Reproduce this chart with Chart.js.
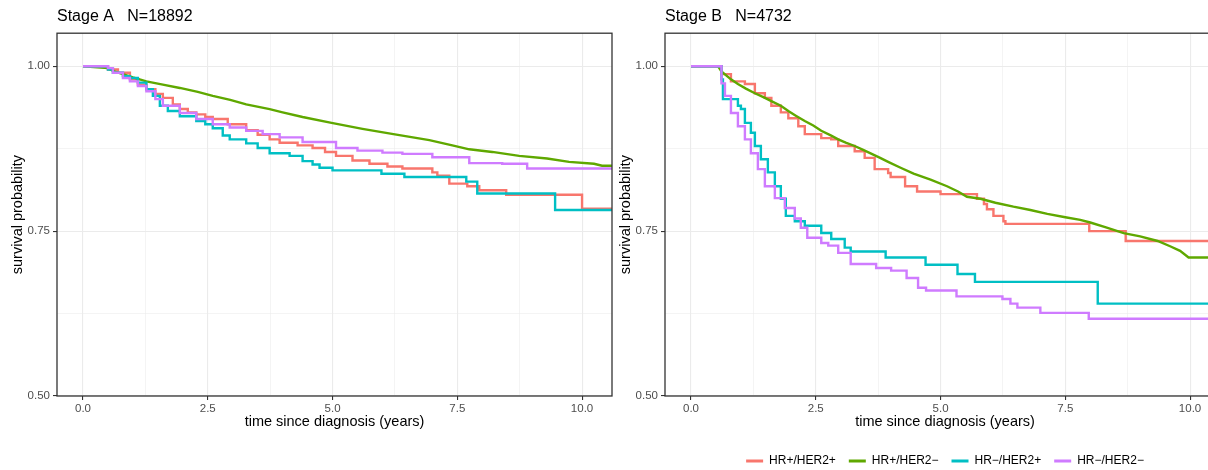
<!DOCTYPE html>
<html><head><meta charset="utf-8">
<script src="https://cdn.jsdelivr.net/npm/chart.js@4.4.1/dist/chart.umd.min.js"></script>
<style>
html,body{margin:0;padding:0;width:1208px;height:470px;overflow:hidden;background:#fff;}
#wrapA{position:absolute;left:0;top:0;width:620px;height:470px;}
#wrapB{position:absolute;left:608px;top:0;width:640px;height:477px;}
canvas{display:block;}
</style></head><body>
<div id="wrapA"><canvas id="cA" width="620" height="470"></canvas></div>
<div id="wrapB"><canvas id="cB" width="640" height="477"></canvas></div>
<script>
// ---- categories & titles ----
const groups = ['HR+/HER2+', 'HR+/HER2\u2212', 'HR\u2212/HER2+', 'HR\u2212/HER2\u2212'];
const panelTitles = ['Stage A   N=18892', 'Stage B   N=4732'];
const xTitle = 'time since diagnosis (years)';
const yTitle = 'survival probability';
const xTickLabels = [0, 2.5, 5, 7.5, 10];
const yTickLabels = [0.5, 0.75, 1.0];

// ---- Stage A ----
const tA1 = [0, 0.5, 0.7, 0.94, 1.1, 1.27, 1.45, 1.6, 1.8, 1.94, 2.1, 2.27, 2.45, 2.6, 2.9, 3.27, 3.5, 3.74, 3.94, 4.3, 4.6, 4.85, 5.07, 5.4, 5.74, 6.1, 6.4, 7.0, 7.1, 7.34, 7.7, 7.94, 8.48, 10.0, 10.6];
const sA1 = [1, 0.995, 0.99, 0.98, 0.972, 0.965, 0.958, 0.952, 0.942, 0.935, 0.93, 0.927, 0.923, 0.92, 0.912, 0.903, 0.896, 0.889, 0.884, 0.88, 0.876, 0.87, 0.864, 0.857, 0.852, 0.848, 0.845, 0.839, 0.834, 0.822, 0.818, 0.812, 0.805, 0.784, 0.784];
const tA2 = [0, 0.5, 0.6, 0.8, 1.0, 1.27, 1.6, 1.94, 2.3, 2.6, 2.95, 3.27, 3.74, 4.0, 4.4, 4.98, 5.6, 6.22, 6.94, 7.4, 7.74, 8.2, 8.74, 9.3, 9.74, 10.24, 10.4, 10.6];
const sA2 = [1, 0.997, 0.993, 0.988, 0.983, 0.977, 0.972, 0.967, 0.961, 0.955, 0.949, 0.942, 0.935, 0.93, 0.923, 0.914, 0.905, 0.897, 0.888, 0.88, 0.874, 0.87, 0.864, 0.86, 0.855, 0.852, 0.849, 0.849];
const tA3 = [0, 0.5, 0.6, 0.8, 0.94, 1.1, 1.27, 1.4, 1.54, 1.7, 1.94, 2.27, 2.45, 2.6, 2.8, 2.94, 3.27, 3.5, 3.74, 4.14, 4.4, 4.6, 4.74, 5.0, 5.98, 6.44, 7.68, 7.9, 9.46, 10.6];
const sA3 = [1, 0.995, 0.99, 0.985, 0.982, 0.975, 0.965, 0.955, 0.94, 0.932, 0.924, 0.917, 0.912, 0.906, 0.895, 0.889, 0.883, 0.876, 0.868, 0.864, 0.856, 0.851, 0.846, 0.842, 0.837, 0.832, 0.825, 0.807, 0.782, 0.782];
const tA4 = [0, 0.5, 0.6, 0.8, 0.94, 1.1, 1.27, 1.45, 1.6, 1.94, 2.27, 2.6, 2.94, 3.27, 3.6, 3.94, 4.4, 5.07, 5.5, 6.0, 6.4, 7.0, 7.74, 8.4, 8.9, 10.6];
const sA4 = [1, 0.997, 0.99, 0.982, 0.977, 0.97, 0.962, 0.95, 0.94, 0.929, 0.92, 0.912, 0.907, 0.902, 0.897, 0.892, 0.885, 0.876, 0.872, 0.869, 0.867, 0.862, 0.853, 0.852, 0.845, 0.845];

// ---- Stage B ----
const tB1 = [0, 0.54, 0.61, 0.8, 1.08, 1.28, 1.48, 1.61, 1.8, 1.95, 2.15, 2.28, 2.61, 2.81, 2.95, 3.28, 3.48, 3.68, 3.95, 4.0, 4.29, 4.53, 5.0, 5.73, 5.87, 5.93, 6.06, 6.26, 6.3, 7.98, 8.71, 10.7];
const sB1 = [1, 1, 0.988, 0.977, 0.973, 0.959, 0.952, 0.94, 0.93, 0.921, 0.909, 0.897, 0.891, 0.889, 0.879, 0.871, 0.861, 0.844, 0.838, 0.832, 0.818, 0.81, 0.806, 0.799, 0.791, 0.783, 0.773, 0.765, 0.761, 0.75, 0.735, 0.735];
const tB2 = [0, 0.54, 0.61, 0.8, 0.94, 1.1, 1.28, 1.45, 1.61, 1.8, 1.95, 2.1, 2.28, 2.45, 2.61, 2.8, 2.95, 3.1, 3.28, 3.45, 3.62, 3.79, 3.95, 4.2, 4.46, 4.8, 5.13, 5.35, 5.53, 5.8, 6.1, 6.46, 6.8, 7.14, 7.5, 7.8, 8.0, 8.3, 8.67, 9.0, 9.35, 9.6, 9.8, 9.97, 10.7];
const sB2 = [1, 1, 0.992, 0.98, 0.973, 0.966, 0.959, 0.953, 0.947, 0.94, 0.932, 0.925, 0.917, 0.91, 0.902, 0.895, 0.889, 0.884, 0.879, 0.873, 0.867, 0.861, 0.855, 0.846, 0.837, 0.828, 0.818, 0.81, 0.802, 0.799, 0.793, 0.787, 0.782, 0.776, 0.771, 0.767, 0.763, 0.756, 0.747, 0.742, 0.735, 0.727, 0.72, 0.71, 0.71];
const tB3 = [0, 0.54, 0.61, 0.64, 0.94, 1.0, 1.08, 1.2, 1.28, 1.4, 1.54, 1.68, 1.8, 1.9, 2.08, 2.28, 2.61, 2.81, 3.08, 3.2, 3.9, 4.7, 5.34, 5.69, 8.15, 10.7];
const sB3 = [1, 1, 0.98, 0.95, 0.94, 0.935, 0.914, 0.899, 0.879, 0.859, 0.839, 0.818, 0.799, 0.773, 0.765, 0.758, 0.747, 0.738, 0.725, 0.719, 0.71, 0.699, 0.685, 0.673, 0.64, 0.64];
const tB4 = [0, 0.54, 0.61, 0.68, 0.8, 0.94, 1.08, 1.2, 1.34, 1.48, 1.68, 1.88, 2.08, 2.2, 2.33, 2.61, 2.75, 2.95, 3.2, 3.71, 4.01, 4.32, 4.55, 4.71, 5.32, 6.24, 6.4, 6.54, 7.0, 7.97, 10.7];
const sB4 = [1, 1, 0.974, 0.955, 0.929, 0.909, 0.889, 0.868, 0.844, 0.818, 0.8, 0.785, 0.769, 0.755, 0.74, 0.732, 0.728, 0.717, 0.70, 0.694, 0.69, 0.679, 0.664, 0.66, 0.651, 0.647, 0.64, 0.634, 0.626, 0.617, 0.617];

// ---- styles ----
const colors = ['#F8766D', '#5FA800', '#00BFC4', '#CF7BFF'];
const FONT = "'Liberation Sans', Arial, Helvetica, sans-serif";

const isMajorX = v => Math.abs(v / 2.5 - Math.round(v / 2.5)) < 1e-6;
const isMajorY = v => Math.abs(v / 0.25 - Math.round(v / 0.25)) < 1e-6;
const xGrid = [];
for (let i = 0; i < xTickLabels.length; i++) {
  xGrid.push(xTickLabels[i]);
  if (i < xTickLabels.length - 1) xGrid.push((xTickLabels[i] + xTickLabels[i + 1]) / 2);
}
const yGrid = [];
for (let i = 0; i < yTickLabels.length; i++) {
  yGrid.push(yTickLabels[i]);
  if (i < yTickLabels.length - 1) yGrid.push((yTickLabels[i] + yTickLabels[i + 1]) / 2);
}

function series(ts, ss, i, stepped) {
  return {
    label: groups[i],
    data: ts.map((t, k) => ({x: t, y: ss[k]})),
    borderColor: colors[i],
    backgroundColor: colors[i],
    borderWidth: 2.4,
    pointRadius: 0,
    pointHoverRadius: 0,
    stepped: stepped,
    tension: 0,
    fill: false,
    clip: 0,
    order: 4 - i
  };
}

const panelBorder = {
  id: 'panelBorder',
  afterDatasetsDraw(chart) {
    const {ctx, chartArea: a} = chart;
    ctx.save();
    ctx.strokeStyle = '#333333';
    ctx.lineWidth = 1.3;
    ctx.strokeRect(a.left, a.top, a.right - a.left, a.bottom - a.top);
    ctx.restore();
  }
};

function makeChart(id, title, datasets, cfg) {
  return new Chart(document.getElementById(id), {
    type: 'line',
    data: {datasets},
    plugins: [panelBorder],
    options: {
      responsive: false,
      animation: false,
      devicePixelRatio: 1,
      layout: {padding: {left: 0, top: 0, right: cfg.padRight, bottom: cfg.padBottom}},
      plugins: {
        tooltip: {enabled: false},
        title: {
          display: true, text: title, align: 'start', fullSize: false,
          color: '#000', font: {family: FONT, size: 16, weight: 'normal'},
          padding: {top: 7, bottom: 7}
        },
        legend: {
          display: cfg.legend, position: 'bottom', align: 'center', fullSize: false,
          labels: {
            boxWidth: 17, boxHeight: 3, padding: 13, color: '#000',
            font: {family: FONT, size: 12},
            sort: (a, b) => a.datasetIndex - b.datasetIndex,
            generateLabels: chart => chart.data.datasets.map((d, i) => ({
              text: d.label, fillStyle: d.borderColor, strokeStyle: d.borderColor,
              lineWidth: 0, hidden: false, datasetIndex: i
            }))
          }
        }
      },
      scales: {
        x: {
          type: 'linear', min: -0.521, max: cfg.xMax,
          afterBuildTicks: s => { s.ticks = xGrid.map(v => ({value: v})); },
          afterFit: s => { s.height = cfg.xHeight; },
          border: {display: false},
          grid: {
            color: '#EBEBEB',
            lineWidth: c => isMajorX(c.tick.value) ? 1.1 : 0.55,
            drawTicks: true, tickLength: 4, tickWidth: 1.1,
            tickColor: c => isMajorX(c.tick.value) ? '#333333' : 'rgba(0,0,0,0)'
          },
          ticks: {
            autoSkip: false, maxRotation: 0, padding: 2, color: '#4D4D4D',
            font: {family: FONT, size: 11.5},
            callback: v => isMajorX(v) ? v.toFixed(1) : ''
          },
          title: {
            display: true, text: xTitle, color: '#000',
            font: {family: FONT, size: 14.5}, padding: {top: 0, bottom: cfg.xTitlePad}
          }
        },
        y: {
          type: 'linear', min: 0.5, max: 1.05,
          afterBuildTicks: s => { s.ticks = yGrid.map(v => ({value: v})); },
          afterFit: s => { s.width = 57; },
          border: {display: false},
          grid: {
            color: '#EBEBEB',
            lineWidth: c => isMajorY(c.tick.value) ? 1.1 : 0.55,
            drawTicks: true, tickLength: 4, tickWidth: 1.1,
            tickColor: c => isMajorY(c.tick.value) ? '#333333' : 'rgba(0,0,0,0)'
          },
          ticks: {
            autoSkip: false, padding: 3, color: '#4D4D4D',
            font: {family: FONT, size: 11.5},
            callback: v => isMajorY(v) ? v.toFixed(2) : ''
          },
          title: {
            display: true, text: yTitle, color: '#000',
            font: {family: FONT, size: 14.5}, padding: {top: 9, bottom: 0}
          }
        }
      }
    }
  });
}

makeChart('cA', panelTitles[0], [
  series(tA1, sA1, 0, 'before'),
  series(tA2, sA2, 1, false),
  series(tA3, sA3, 2, 'before'),
  series(tA4, sA4, 3, 'before')
], {padRight: 8, padBottom: 39, xMax: 10.6, xHeight: 35, xTitlePad: 0, legend: false});

makeChart('cB', panelTitles[1], [
  series(tB1, sB1, 0, 'before'),
  series(tB2, sB2, 1, false),
  series(tB3, sB3, 2, 'before'),
  series(tB4, sB4, 3, 'before')
], {padRight: 23, padBottom: 0, xMax: 10.7, xHeight: 46, xTitlePad: 11, legend: true});
</script>
</body></html>
